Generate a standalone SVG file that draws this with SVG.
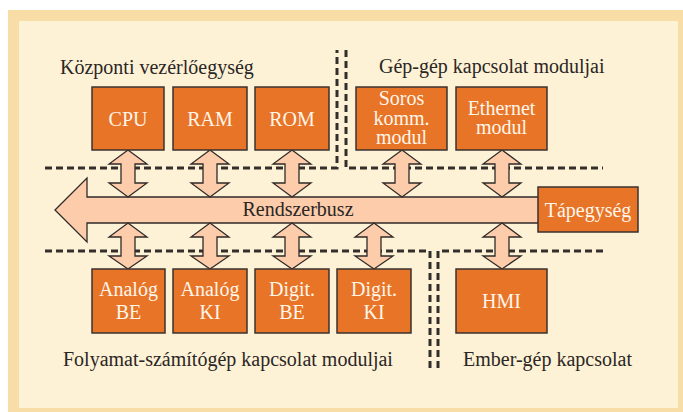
<svg xmlns="http://www.w3.org/2000/svg" width="683" height="412" viewBox="0 0 683 412">
<style>
.box{fill:#E87427;stroke:#3a3230;stroke-width:1.5}
.bt{font-family:"Liberation Serif","Times New Roman",serif;font-size:20px;fill:#FFF6EA;text-anchor:middle}
.lbl{font-family:"Liberation Serif","Times New Roman",serif;font-size:20px;fill:#2a2624}
.dash{fill:none;stroke:#332e2c;stroke-width:3;stroke-dasharray:7 4}
.arr{fill:#FCCCAB;stroke:#2f2a28;stroke-width:1.3;stroke-linejoin:miter}
</style>
<defs>
<path id="dup" d="M0,0 L19,14 L7,14 L7,33 L19,33 L0,47 L-19,33 L-7,33 L-7,14 L-19,14 Z"/>
<path id="ddn" d="M0,0 L19,14 L7,14 L7,33 L19,33 L0,46 L-19,33 L-7,33 L-7,14 L-19,14 Z"/>
</defs>
<rect x="8" y="10" width="680" height="405" fill="#F8DEA6"/>
<rect x="19" y="21" width="659" height="387" fill="#FEF2D6"/>
<g id="dividers">
<path class="dash" d="M45,168 H337 V50"/>
<path class="dash" d="M346,50 V168 H603"/>
<path class="dash" d="M45,251 H430 V368"/>
<path class="dash" d="M438,368 V251 H603"/>
</g>
<g id="labels">
<text class="lbl" x="60" y="74">Központi vezérlőegység</text>
<text class="lbl" x="379" y="73">Gép-gép kapcsolat moduljai</text>
<text class="lbl" x="63" y="366">Folyamat-számítógép kapcsolat moduljai</text>
<text class="lbl" x="463" y="366">Ember-gép kapcsolat</text>
</g>
<g id="connectors">
<g id="bus">
<path class="arr" d="M55,210 L87,178 L87,197 L540,197 L540,223 L87,223 L87,242 Z"/>
<text class="lbl" x="298" y="216" text-anchor="middle">Rendszerbusz</text>
</g>
<use href="#dup" class="arr" x="128" y="150"/>
<use href="#dup" class="arr" x="210" y="150"/>
<use href="#dup" class="arr" x="292" y="150"/>
<use href="#dup" class="arr" x="402" y="150"/>
<use href="#dup" class="arr" x="502" y="150"/>
<use href="#ddn" class="arr" x="128" y="223"/>
<use href="#ddn" class="arr" x="210" y="223"/>
<use href="#ddn" class="arr" x="292" y="223"/>
<use href="#ddn" class="arr" x="374" y="223"/>
<use href="#ddn" class="arr" x="502" y="223"/>
</g>
<g id="cpu"><rect class="box" x="92" y="87" width="72" height="63"/><text class="bt" x="128" y="126">CPU</text></g>
<g id="ram"><rect class="box" x="173" y="87" width="74" height="63"/><text class="bt" x="210" y="126">RAM</text></g>
<g id="rom"><rect class="box" x="255" y="87" width="74" height="63"/><text class="bt" x="292" y="126">ROM</text></g>
<g id="soros"><rect class="box" x="356" y="87" width="91" height="63"/><text class="bt" x="401.5" y="105">Soros</text><text class="bt" x="401.5" y="125">komm.</text><text class="bt" x="401.5" y="144">modul</text></g>
<g id="ethernet"><rect class="box" x="456" y="87" width="91" height="63"/><text class="bt" x="501.5" y="115">Ethernet</text><text class="bt" x="501.5" y="134">modul</text></g>
<g id="tap"><rect class="box" x="538" y="187" width="100" height="45"/><text class="bt" x="588" y="217">Tápegység</text></g>
<g id="analogbe"><rect class="box" x="92" y="269" width="73" height="64"/><text class="bt" x="128.5" y="296">Analóg</text><text class="bt" x="128.5" y="319">BE</text></g>
<g id="analogki"><rect class="box" x="173" y="269" width="74" height="64"/><text class="bt" x="210" y="296">Analóg</text><text class="bt" x="210" y="319">KI</text></g>
<g id="digitbe"><rect class="box" x="255" y="269" width="74" height="64"/><text class="bt" x="292" y="296">Digit.</text><text class="bt" x="292" y="319">BE</text></g>
<g id="digitki"><rect class="box" x="337" y="269" width="74" height="64"/><text class="bt" x="374" y="296">Digit.</text><text class="bt" x="374" y="319">KI</text></g>
<g id="hmi"><rect class="box" x="456" y="269" width="91" height="64"/><text class="bt" x="501.5" y="308">HMI</text></g>
</svg>
